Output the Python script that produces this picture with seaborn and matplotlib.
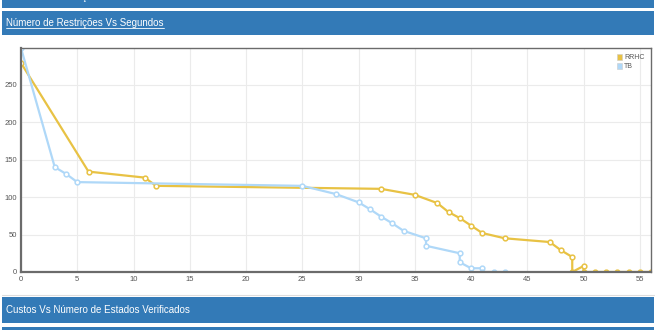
import pandas as pd
import matplotlib
matplotlib.use("Agg")
import matplotlib.pyplot as plt
import matplotlib.patches as mpatches
from matplotlib.lines import Line2D
import seaborn as sns

# dados
rrhc_x = [0, 6, 11, 12, 32, 35, 37, 38, 39, 40, 41, 43, 47, 48, 49, 49, 50, 50, 51, 52, 53, 54, 55, 56]
rrhc_y = [279, 134, 126, 115, 111, 103, 92, 80, 72, 62, 52, 45, 40, 29, 20, 0, 8, 0, 0, 0, 0, 0, 0, 0]
tb_x = [0, 3, 4, 5, 25, 28, 30, 31, 32, 33, 34, 36, 36, 39, 39, 40, 41, 41, 42, 43]
tb_y = [299, 140, 131, 120, 115, 104, 93, 84, 74, 65, 55, 45, 35, 25, 13, 5, 5, 0, 0, 0]
series = ["RRHC", "TB"]
colors = {"RRHC": "#e8c244", "TB": "#afd8f8"}
x_ticks = [0, 5, 10, 15, 20, 25, 30, 35, 40, 45, 50, 55]
y_ticks = [0, 50, 100, 150, 200, 250]

titulo = "Número de Restrições Vs Segundos"
titulo_topo = "Número de Restrições Vs Estados Verificados"
titulo_baixo = "Custos Vs Número de Estados Verificados"

df = pd.concat([
    pd.DataFrame({"x": rrhc_x, "y": rrhc_y, "serie": "RRHC"}),
    pd.DataFrame({"x": tb_x, "y": tb_y, "serie": "TB"}),
])

sns.set_style("white")
plt.rcParams["font.family"] = ["Liberation Sans", "DejaVu Sans"]

fig = plt.figure(figsize=(6.56, 3.30), dpi=100, facecolor="w")
W, H = 656.0, 330.0
ax = fig.add_axes([21 / W, 1 - 272 / H, 630 / W, 224 / H])

for nome in series:
    sub = df[df["serie"] == nome]
    c = colors[nome]
    sns.lineplot(data=sub, x="x", y="y", sort=False, estimator=None, ax=ax,
                 color=c, linewidth=1.6, marker="o", markersize=3.4,
                 markerfacecolor="white", markeredgecolor=c, markeredgewidth=1.1,
                 label=nome)

ax.set_xlim(0, 56)
ax.set_ylim(0, 299)
ax.set_xticks(x_ticks)
ax.set_yticks(y_ticks)
ax.set_xlabel("")
ax.set_ylabel("")
ax.grid(True, color="#ebebeb", linewidth=0.8)
ax.tick_params(axis="both", labelsize=5.5, labelcolor="#555555", length=0, pad=3)
for s in ["left", "bottom"]:
    ax.spines[s].set_color("#6b6b6b")
    ax.spines[s].set_linewidth(1.6)
for s in ["top", "right"]:
    ax.spines[s].set_color("#6b6b6b")
    ax.spines[s].set_linewidth(1.0)

handles = [mpatches.Patch(facecolor=colors[n], edgecolor="#cccccc", linewidth=0.4) for n in series]
ax.legend(handles, series, loc="upper right", fontsize=5, frameon=False,
          handlelength=0.8, handleheight=0.8, handletextpad=0.3, labelspacing=0.3,
          borderaxespad=0.5, labelcolor="#555555")

# barras azuis dos painéis
azul = "#337ab7"
for y0, y1 in [(0, 8), (11, 35), (297, 323), (327, 330)]:
    fig.patches.append(mpatches.Rectangle((2 / W, 1 - y1 / H), 652 / W, (y1 - y0) / H,
                                          transform=fig.transFigure, facecolor=azul,
                                          edgecolor="none", zorder=0))
fig.lines.append(Line2D([2 / W, 654 / W], [1 - 295 / H] * 2, transform=fig.transFigure,
                        color="#dddddd", linewidth=0.8))

fig.text(6 / W, 1 - (-3) / H, titulo_topo, color="white", fontsize=7, va="center")
t = fig.text(6 / W, 1 - 22.5 / H, titulo, color="white", fontsize=7, va="center")
fig.text(6 / W, 1 - 310 / H, titulo_baixo, color="white", fontsize=7, va="center")

# sublinhado do título
fig.canvas.draw()
bb = t.get_window_extent()
fig.lines.append(Line2D([bb.x0 / W, bb.x1 / W], [(bb.y0 - 0.5) / H] * 2,
                        transform=fig.transFigure, color="white", linewidth=0.6))

fig.savefig("out.png", dpi=100, facecolor="w")
